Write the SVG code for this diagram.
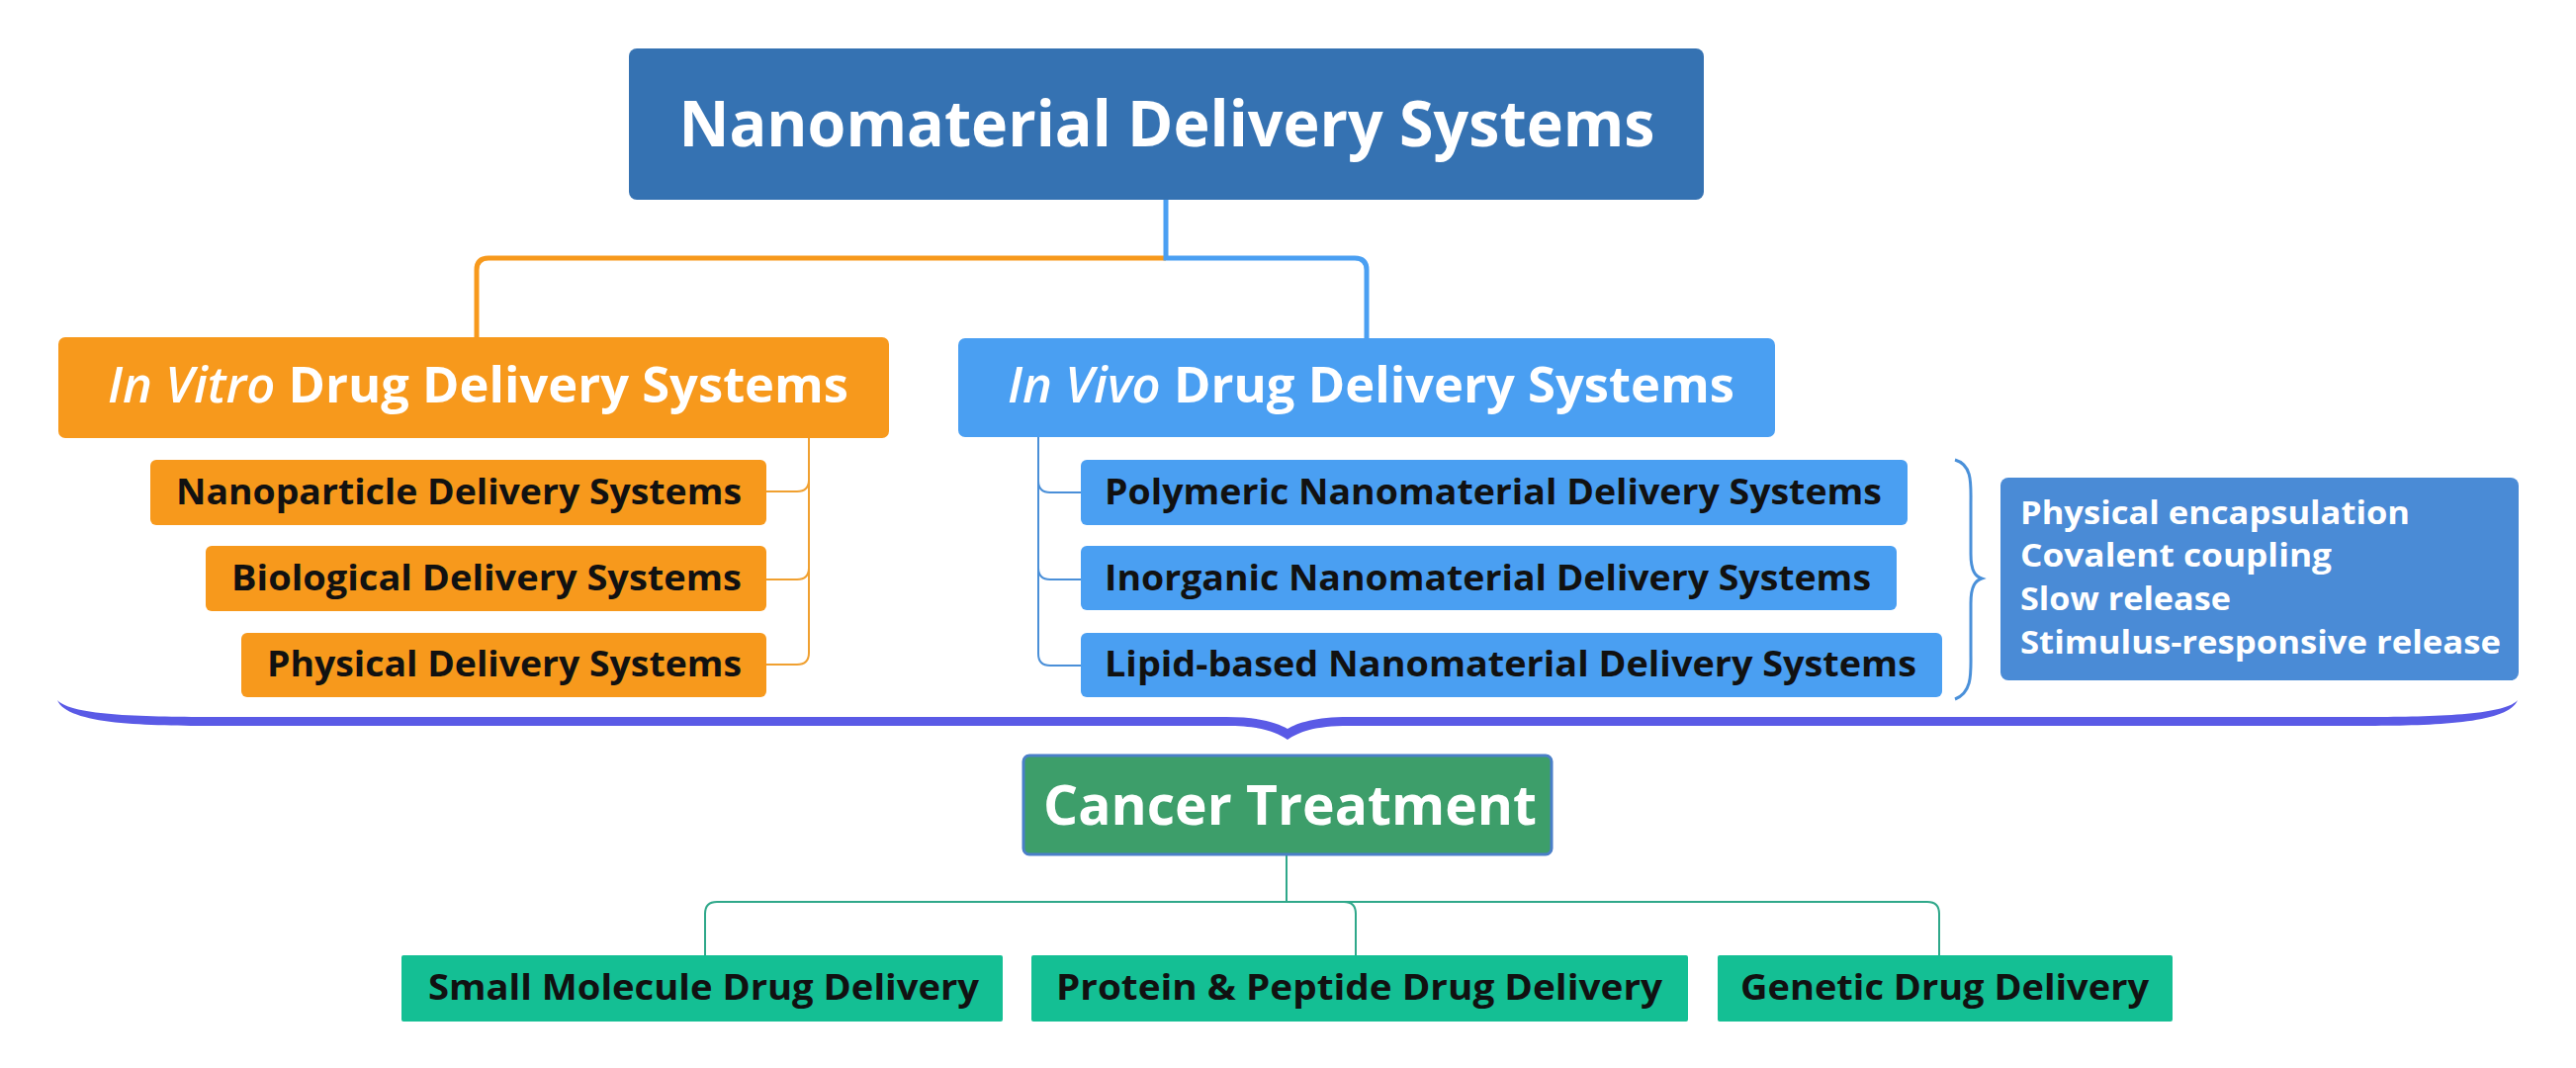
<svg xmlns="http://www.w3.org/2000/svg" width="2605" height="1080" viewBox="0 0 2605 1080">
<style>
text{font-family:"Open Sans","Liberation Sans",sans-serif;font-weight:700}
.w{fill:#ffffff}
.k{fill:#111111}
.sub{font-size:36px}
.thin{fill:none;stroke-width:2}
</style>
<rect width="2605" height="1080" fill="#ffffff"/>
<g id="connectors">
  <path d="M1179,261 H494 Q482,261 482,273 V342" fill="none" stroke="#f7991c" stroke-width="5"/>
  <path d="M1179,201 V261 H1370 Q1382,261 1382,273 V342" fill="none" stroke="#4a9ff2" stroke-width="5"/>
  <path class="thin" stroke="#f0a030" d="M818,443 V660 Q818,672 806,672 H775 M818,485 Q818,497 806,497 H775 M818,574 Q818,586 806,586 H775"/>
  <path class="thin" stroke="#4a8fd8" d="M1050,442 V661 Q1050,673 1062,673 H1093 M1050,486 Q1050,498 1062,498 H1093 M1050,574 Q1050,586 1062,586 H1093"/>
  <path d="M1977,465 C1995,470 1993,490 1993,510 L1993,560 C1993,578 1998,583 2004,585 C1998,587 1993,592 1993,610 L1993,660 C1993,680 1995,700 1977,707" fill="none" stroke="#4a90d9" stroke-width="3"/>
  <path d="M58,708 C68,733 150,734 220,734 L1240,734 C1275,734 1290,740 1302,748 C1314,740 1329,734 1364,734 L2384,734 C2454,734 2536,733 2546,708 C2532,724 2454,725 2384,725 L1364,725 C1330,725 1312,731 1302,737 C1292,731 1274,725 1240,725 L220,725 C150,725 72,724 58,708 Z" fill="#5a5ae6"/>
  <path class="thin" stroke="#2fa88a" d="M1301,864 V912 M713,967 V924 Q713,912 725,912 H1949 Q1961,912 1961,924 V967 M1359,912 Q1371,912 1371,924 V967"/>
</g>
<g id="root">
  <rect x="636" y="49" width="1087" height="153" rx="8" fill="#3572b2"/>
  <text class="w" x="1180" y="148" font-size="64" text-anchor="middle" textLength="987" lengthAdjust="spacingAndGlyphs">Nanomaterial Delivery Systems</text>
</g>
<g id="invitro">
  <rect x="59" y="341" width="840" height="102" rx="7" fill="#f7991c"/>
  <text class="w" x="109" y="407" font-size="50" textLength="749" lengthAdjust="spacingAndGlyphs"><tspan font-style="italic" font-weight="600">In Vitro</tspan> Drug Delivery Systems</text>
</g>
<g id="nanoparticle">
  <rect x="152" y="465" width="623" height="66" rx="6" fill="#f7991c"/>
  <text class="k sub" x="178" y="510" textLength="572" lengthAdjust="spacingAndGlyphs">Nanoparticle Delivery Systems</text>
</g>
<g id="biological">
  <rect x="208" y="552" width="567" height="66" rx="6" fill="#f7991c"/>
  <text class="k sub" x="234" y="597" textLength="516" lengthAdjust="spacingAndGlyphs">Biological Delivery Systems</text>
</g>
<g id="physical">
  <rect x="244" y="640" width="531" height="65" rx="6" fill="#f7991c"/>
  <text class="k sub" x="270" y="684" textLength="480" lengthAdjust="spacingAndGlyphs">Physical Delivery Systems</text>
</g>
<g id="invivo">
  <rect x="969" y="342" width="826" height="100" rx="7" fill="#4a9ff2"/>
  <text class="w" x="1019" y="407" font-size="50" textLength="735" lengthAdjust="spacingAndGlyphs"><tspan font-style="italic" font-weight="600">In Vivo</tspan> Drug Delivery Systems</text>
</g>
<g id="polymeric">
  <rect x="1093" y="465" width="836" height="66" rx="6" fill="#4a9ff2"/>
  <text class="k sub" x="1117" y="510" textLength="786" lengthAdjust="spacingAndGlyphs">Polymeric Nanomaterial Delivery Systems</text>
</g>
<g id="inorganic">
  <rect x="1093" y="552" width="825" height="65" rx="6" fill="#4a9ff2"/>
  <text class="k sub" x="1117" y="597" textLength="775" lengthAdjust="spacingAndGlyphs">Inorganic Nanomaterial Delivery Systems</text>
</g>
<g id="lipid">
  <rect x="1093" y="640" width="871" height="65" rx="6" fill="#4a9ff2"/>
  <text class="k sub" x="1117" y="684" textLength="821" lengthAdjust="spacingAndGlyphs">Lipid-based Nanomaterial Delivery Systems</text>
</g>
<g id="mechanisms">
  <rect x="2023" y="483" width="524" height="205" rx="8" fill="#4a8bd6"/>
  <text class="w" font-size="33" x="2043" y="530" textLength="394" lengthAdjust="spacingAndGlyphs">Physical encapsulation</text>
  <text class="w" font-size="33" x="2043" y="573" textLength="315" lengthAdjust="spacingAndGlyphs">Covalent coupling</text>
  <text class="w" font-size="33" x="2043" y="617" textLength="213" lengthAdjust="spacingAndGlyphs">Slow release</text>
  <text class="w" font-size="33" x="2043" y="661" textLength="486" lengthAdjust="spacingAndGlyphs">Stimulus-responsive release</text>
</g>
<g id="cancer">
  <rect x="1035" y="764" width="534" height="100" rx="6" fill="#3d9e6a" stroke="#4a7fc8" stroke-width="3"/>
  <text class="w" x="1055" y="834" font-size="56" textLength="499" lengthAdjust="spacingAndGlyphs">Cancer Treatment</text>
</g>
<g id="smallmolecule">
  <rect x="406" y="966" width="608" height="67" rx="2" fill="#14bf94"/>
  <text class="k sub" x="433" y="1011" textLength="557" lengthAdjust="spacingAndGlyphs">Small Molecule Drug Delivery</text>
</g>
<g id="protein">
  <rect x="1043" y="966" width="664" height="67" rx="2" fill="#14bf94"/>
  <text class="k sub" x="1068" y="1011" textLength="613" lengthAdjust="spacingAndGlyphs">Protein &amp; Peptide Drug Delivery</text>
</g>
<g id="genetic">
  <rect x="1737" y="966" width="460" height="67" rx="2" fill="#14bf94"/>
  <text class="k sub" x="1760" y="1011" textLength="413" lengthAdjust="spacingAndGlyphs">Genetic Drug Delivery</text>
</g>
</svg>
